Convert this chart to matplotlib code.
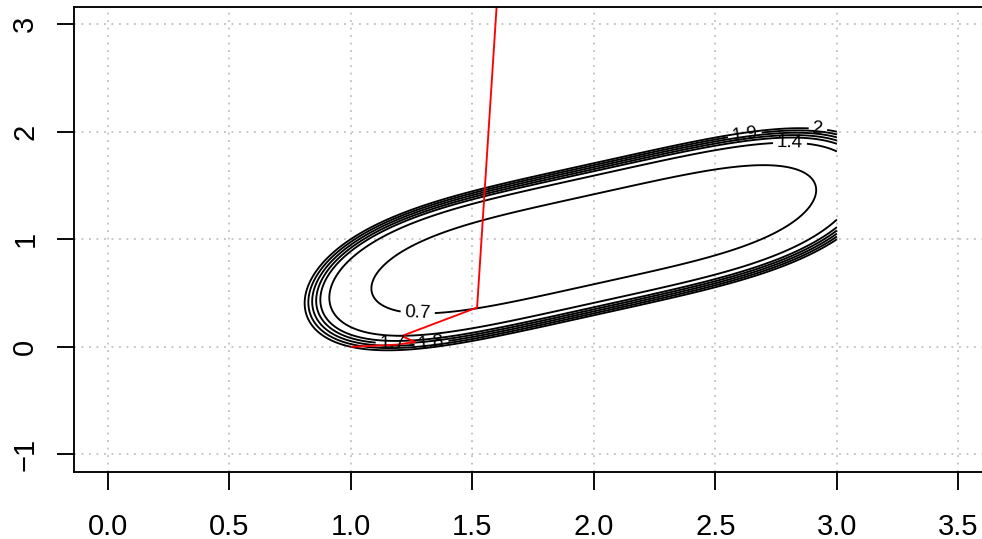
import numpy as np
import matplotlib
matplotlib.use("Agg")
import matplotlib.pyplot as plt

plt.rcParams["font.family"] = ["Liberation Sans", "DejaVu Sans"]

# Objective f(x, y) = (x - 2)^4 + (x - 2y)^2 evaluated on a grid
grid_x = np.linspace(0.0, 3.0, 601)
grid_y = np.linspace(-1.0, 3.0, 801)
label_levels = [0.7, 1.4, 1.7, 1.8, 1.9, 2.0]
plain_levels = [1.6]
label_spots = [(1.276, 0.33), (2.807, 1.90), (1.173, 0.03), (1.333, 0.03),
               (2.621, 1.975), (2.922, 2.026)]

# Iterates of the search path
path_x = [1.005, 1.10, 1.19, 1.265, 1.21, 1.52, 1.61]
path_y = [0.0, 0.01, 0.02, 0.045, 0.10, 0.365, 3.5]

x_ticks = [0.0, 0.5, 1.0, 1.5, 2.0, 2.5, 3.0, 3.5]
y_ticks = [-1, 0, 1, 2, 3]

X, Y = np.meshgrid(grid_x, grid_y)
Z = (X - 2) ** 4 + (X - 2 * Y) ** 2

W, H = 982, 539
fig = plt.figure(figsize=(W / 100, H / 100), dpi=100)
left, right, top, bottom = 73.5, 992.5, 7, 471.5
ax = fig.add_axes([left / W, 1 - bottom / H, (right - left) / W, (bottom - top) / H])
ax.set_xlim(-0.14, 3.64)
ax.set_ylim(-1.16, 3.16)

LW = 1.35
for xv in x_ticks:
    ax.axvline(xv, color="#c4c4c4", lw=LW, ls=(0, (1, 3)), zorder=0)
for yv in y_ticks:
    ax.axhline(yv, color="#c4c4c4", lw=LW, ls=(0, (1, 3)), zorder=0)

ax.contour(X, Y, Z, levels=plain_levels, colors="black", linewidths=LW)
cs = ax.contour(X, Y, Z, levels=label_levels, colors="black", linewidths=LW)
fmt = {lv: ("%g" % lv) for lv in label_levels}
ax.clabel(cs, manual=label_spots, inline=True,
          inline_spacing=4, fmt=fmt, fontsize=13.5, colors="black")

ax.plot(path_x, path_y, color="red", lw=LW, clip_on=True)

ax.set_xticks(x_ticks)
ax.set_xticklabels(["%.1f" % v for v in x_ticks])
ax.set_yticks(y_ticks)
ax.set_yticklabels([str(v).replace("-", "\u2212") for v in y_ticks],
                   rotation=90, va="center")
ax.tick_params(axis="both", length=12.6, width=LW, labelsize=21,
               direction="out", colors="black")
ax.tick_params(axis="x", pad=17)
ax.tick_params(axis="y", pad=12)
for sp in ax.spines.values():
    sp.set_linewidth(LW)

fig.savefig("out.png", dpi=100)
